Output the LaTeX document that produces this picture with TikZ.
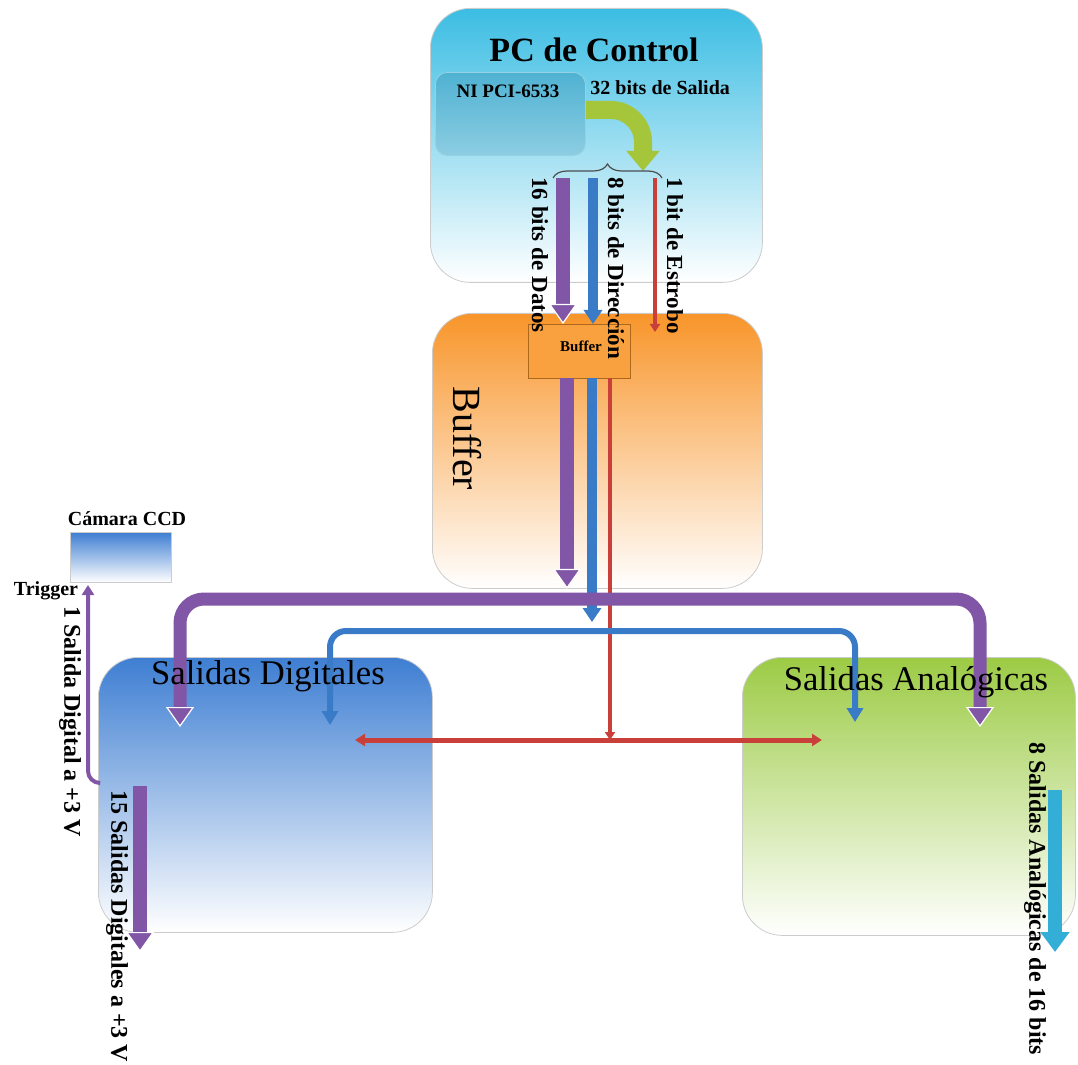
\documentclass[tikz,border=0pt]{standalone}
\usepackage{fontspec}
\setmainfont{Liberation Serif}
\usetikzlibrary{arrows.meta,positioning,decorations.pathreplacing}

\definecolor{pccyan}{HTML}{3BBDE3}
\definecolor{niblue}{HTML}{4FB2D2}
\definecolor{bforange}{HTML}{F8952A}
\definecolor{digblue}{HTML}{3E7ED2}
\definecolor{anagreen}{HTML}{9CCB45}
\definecolor{purp}{HTML}{8256A6}
\definecolor{busblue}{HTML}{3A7BC8}
\definecolor{strred}{HTML}{C9403A}
\definecolor{outcyan}{HTML}{33AED6}
\definecolor{arrgreen}{HTML}{A5C63B}

\newcommand\fsz[1]{\fontsize{#1}{#1}\selectfont}

\begin{document}
\begin{tikzpicture}[
    x=0.5pt, y=-0.5pt,
    panel/.style={draw=gray!40, rounded corners=20pt, anchor=north west, inner sep=0pt},
    title/.style={font=\fsz{17.3pt}, anchor=base},
    tag/.style={font=\bfseries\fsz{10pt}},
    vtag/.style={font=\bfseries\fsz{11.5pt}, rotate=-90, anchor=west, inner sep=0pt},
    fatarrow/.style={line width=7pt, purp, -{Triangle[width=14pt,length=10pt,fill=purp,color=white,line width=0.6pt]}},
    midarrow/.style={line width=5pt, busblue, -{Triangle[width=9pt,length=7pt]}},
    thinarrow/.style={line width=2pt, strred, -{Triangle[width=5pt,length=4pt]}}
]
\useasboundingbox (0,0) rectangle (1078,1065);

% blocks
\node[panel, minimum width=166pt, minimum height=137pt, top color=pccyan, middle color=pccyan!65, bottom color=white] (pc) at (430,8) {};
\node[panel, rounded corners=6pt, draw=niblue!60!white, minimum width=75pt, minimum height=41.5pt, top color=niblue, bottom color=niblue!65] (ni) at (435,72) {};
\node[panel, minimum width=165pt, minimum height=137.5pt, top color=bforange, middle color=bforange!85, bottom color=white] (buf) at (432,313) {};
\node[panel, rounded corners=0pt, draw=bforange!70!black, fill=bforange!90, minimum width=51pt, minimum height=27pt] (sbuf) at (528,324) {};
\node[panel, minimum width=167pt, minimum height=137.5pt, top color=digblue, middle color=digblue!85, bottom color=white] (dig) at (98,657) {};
\node[panel, minimum width=166.5pt, minimum height=139pt, top color=anagreen, middle color=anagreen!85, bottom color=white] (ana) at (742,657) {};
\node[panel, rounded corners=0pt, minimum width=50.5pt, minimum height=25pt, top color=digblue, middle color=digblue!70, bottom color=white] (cam) at (70,532) {};

% 32 bits out of the card
\coordinate (gstart) at (586,110);
\coordinate (gend) at (643,171);
\draw[line width=9pt, arrgreen, rounded corners=16pt, -{Triangle[width=16pt,length=10pt]}] (gstart) -| (gend);
\draw[decorate, decoration={brace, amplitude=7pt}, line width=0.6pt, black!70] (553,178) -- (662,178);

% PC -> buffer
\coordinate (dat1) at (563,178);
\coordinate (dir1) at (593,178);
\coordinate (est1) at (655,178);
\coordinate (est1e) at (655,332);
\draw[fatarrow] (dat1) -- (dat1 |- sbuf.north);
\draw[midarrow] (dir1) -- (dir1 |- sbuf.north);
\draw[thinarrow] (est1) -- (est1e);

% buffer -> buses
\coordinate (dat2) at (567,378);
\coordinate (dir2) at (592,378);
\coordinate (est2) at (610,378);
\coordinate (dir2e) at (592,622);
\coordinate (est2e) at (610,740);
\draw[fatarrow] (dat2) -- (dat2 |- buf.south);
\draw[midarrow] (dir2) -- (dir2e);
\draw[thinarrow] (est2) -- (est2e);

% data bus
\coordinate (pbl) at (180,727);
\coordinate (pbtop) at (580,599);
\coordinate (pbr) at (980,727);
\draw[fatarrow, line width=6.5pt, rounded corners=12pt, {Triangle[width=14pt,length=10pt,fill=purp,color=white,line width=0.6pt]}-{Triangle[width=14pt,length=10pt,fill=purp,color=white,line width=0.6pt]}] (pbl) |- (pbtop) -| (pbr);

% address bus
\coordinate (bbl) at (330,725);
\coordinate (bbtop) at (592,631);
\coordinate (bbr) at (855,722);
\draw[line width=3pt, busblue, rounded corners=8pt, {Triangle[width=8pt,length=7pt]}-{Triangle[width=8pt,length=7pt]}] (bbl) |- (bbtop) -| (bbr);

% strobe line
\coordinate (rbl) at (355,740);
\coordinate (rbr) at (822,740);
\draw[line width=2.5pt, strred, {Triangle[width=6pt,length=5pt]}-{Triangle[width=6pt,length=5pt]}] (rbl) -- (rbr);

% outputs
\coordinate (trg1) at (99,783);
\coordinate (trg2) at (88,585);
\draw[line width=2pt, purp, rounded corners=6pt, -{Triangle[width=6pt,length=5pt]}] (trg1) -| (trg2);
\coordinate (dout1) at (140,786);
\coordinate (dout2) at (140,952);
\draw[fatarrow] (dout1) -- (dout2);
\coordinate (aout1) at (1055,790);
\coordinate (aout2) at (1055,952);
\draw[line width=7pt, outcyan, -{Triangle[width=14pt,length=10pt]}] (aout1) -- (aout2);

% texts
\node[title, font=\bfseries\fsz{17pt}] (pctitle) at (594,62) {PC de Control};
\node[tag, font=\bfseries\fsz{9.5pt}, anchor=base] (nitext) at (508,98) {NI PCI-6533};
\node[tag, anchor=base west, inner sep=0pt] (sal32) at (590,95) {32 bits de Salida};
\node[font=\bfseries\fsz{7.5pt}] (sbuftext) at (581,346) {Buffer};
\node[font=\fsz{20pt}, rotate=-90, anchor=west, inner sep=0pt] (buftext) at (467,386) {Buffer};
\node[title] (digtext) at (268,684) {Salidas Digitales};
\node[title] (anatext) at (916,690) {Salidas Analógicas};
\node[tag, anchor=base] (camtext) at (127,525) {Cámara CCD};
\node[tag, anchor=base] (trgtext) at (46,595) {Trigger};
\node[vtag] (dattext) at (540,177) {16 bits de Datos};
\node[vtag] (dirtext) at (616,177) {8 bits de Dirección};
\node[vtag] (esttext) at (675,177) {1 bit de Estrobo};
\node[vtag, font=\bfseries\fsz{12pt}] (trgout) at (70,606) {1 Salida Digital a +3 V};
\node[vtag, font=\bfseries\fsz{12pt}] (digout) at (117,790) {15 Salidas Digitales a +3 V};
\node[vtag, font=\bfseries\fsz{12pt}] (anaout) at (1035,742) {8 Salidas Analógicas de 16 bits};
\end{tikzpicture}
\end{document}
